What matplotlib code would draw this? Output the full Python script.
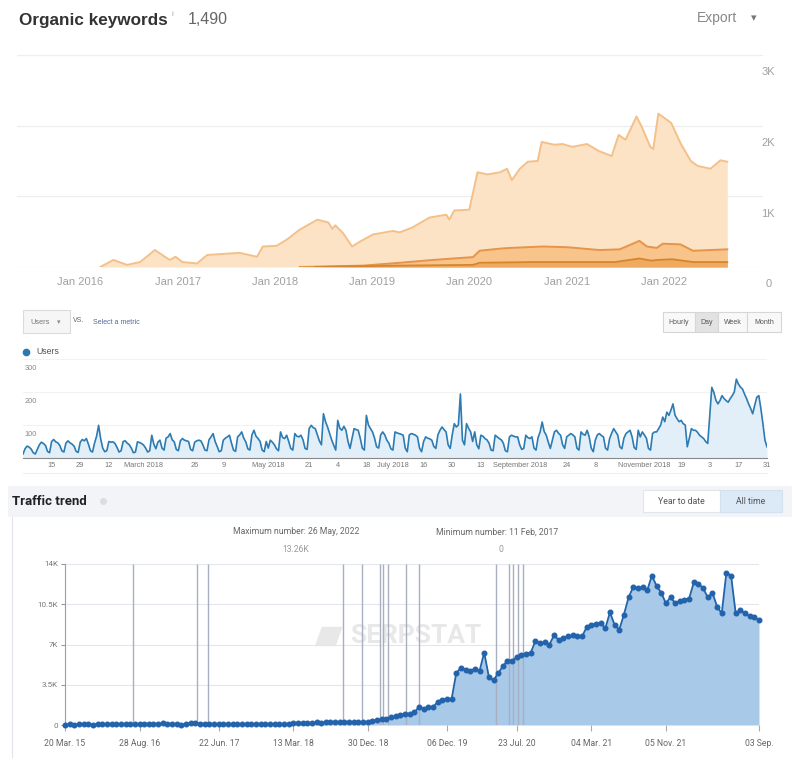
import numpy as np
import pandas as pd
import matplotlib
matplotlib.use('Agg')
import matplotlib.pyplot as plt
from matplotlib.patches import Rectangle, Polygon

# ---------------- data: organic keywords (ahrefs style) ----------------
kw_top_dates = ['2016-03-17', '2016-05-05', '2016-06-25', '2016-08-13', '2016-10-08', '2016-11-14',
                '2016-12-03', '2016-12-24', '2017-01-19', '2017-03-15', '2017-04-22', '2017-08-22',
                '2017-10-26', '2017-11-17', '2018-01-08', '2018-02-16', '2018-04-05', '2018-06-10',
                '2018-07-21', '2018-08-05', '2018-08-16', '2018-09-14', '2018-10-18', '2018-11-17',
                '2019-01-04', '2019-03-20', '2019-04-15', '2019-06-02', '2019-08-05', '2019-10-07',
                '2019-10-18', '2019-11-06', '2020-01-01', '2020-02-01', '2020-03-10', '2020-04-25',
                '2020-05-22', '2020-06-09', '2020-07-09', '2020-08-08', '2020-09-14', '2020-09-29',
                '2020-11-16', '2020-12-16', '2021-01-22', '2021-03-18', '2021-05-02', '2021-06-19',
                '2021-07-15', '2021-08-10', '2021-09-20', '2021-10-09', '2021-11-11', '2021-11-22',
                '2021-12-11', '2022-01-28', '2022-03-06', '2022-04-12', '2022-05-08', '2022-06-25',
                '2022-08-01', '2022-08-27']
kw_top = [0, 100, 30, 70, 240, 145, 100, 145, 70, 50, 170, 200,
          145, 290, 300, 390, 530, 670, 630, 540, 590, 480, 290, 360,
          460, 510, 490, 560, 700, 740, 670, 800, 810, 1340, 1310, 1340,
          1390, 1230, 1390, 1490, 1500, 1770, 1730, 1740, 1700, 1740, 1640, 1570,
          1870, 1800, 2130, 1990, 1700, 1670, 2170, 2040, 1740, 1500, 1430, 1390,
          1510, 1490]

kw_mid_dates = ['2018-04-05', '2018-12-01', '2019-04-15', '2019-08-18', '2020-01-15', '2020-02-09',
                '2020-04-25', '2020-06-03', '2020-10-04', '2021-01-03', '2021-05-04', '2021-07-19',
                '2021-10-01', '2021-10-29', '2021-12-05', '2021-12-28', '2022-03-04', '2022-04-20',
                '2022-08-27']
kw_mid = [0, 20, 60, 100, 140, 230, 260, 270, 290, 280, 240, 250, 370, 290, 270, 330, 320, 230, 250]

kw_low_dates = ['2018-06-01', '2019-04-15', '2020-01-15', '2020-02-09', '2020-09-01', '2021-07-01',
                '2021-10-01', '2021-11-15', '2021-12-10', '2022-02-01', '2022-04-20', '2022-08-27']
kw_low = [0, 20, 30, 60, 70, 70, 120, 90, 100, 110, 70, 70]

kw_years = [2016, 2017, 2018, 2019, 2020, 2021, 2022]
kw_yticks = [0, 1000, 2000, 3000]
kw_ylabels = ['0', '1K', '2K', '3K']

# ---------------- data: GA users per day, 2018 (rows = weeks Mon..Sun) ----------------
users = [
    12, 28, 36, 33, 27, 16, 12,
    26, 40, 48, 44, 38, 20, 16,
    50, 56, 49, 46, 38, 22, 18,
    45, 52, 46, 42, 36, 20, 17,
    48, 56, 52, 59, 42, 22, 18,
    45, 66, 99, 58, 30, 19, 22,
    50, 48, 49, 44, 32, 18, 22,
    50, 52, 45, 40, 30, 16, 18,
    49, 47, 44, 39, 30, 18, 22,
    69, 42, 28, 48, 54, 30, 24,
    60, 64, 74, 55, 49, 26, 22,
    52, 59, 54, 52, 50, 26, 22,
    48, 52, 54, 52, 40, 24, 22,
    55, 64, 74, 50, 35, 19, 22,
    54, 60, 64, 69, 45, 24, 20,
    64, 70, 79, 60, 49, 28, 24,
    70, 84, 66, 59, 50, 24, 19,
    50, 30, 54, 48, 40, 28, 22,
    79, 62, 59, 69, 50, 29, 24,
    74, 66, 64, 69, 55, 29, 26,
    89, 99, 92, 89, 70, 52, 40,
    134, 110, 94, 75, 55, 39, 24,
    114, 90, 84, 96, 84, 50, 29,
    60, 89, 86, 84, 60, 30, 24,
    129, 100, 89, 79, 60, 34, 30,
    70, 79, 70, 54, 45, 28, 24,
    79, 76, 74, 72, 69, 30, 19,
    70, 74, 72, 69, 64, 30, 19,
    50, 64, 60, 58, 54, 35, 29,
    70, 84, 94, 86, 79, 40, 29,
    70, 104, 94, 100, 194, 54, 40,
    104, 90, 79, 50, 79, 40, 28,
    69, 66, 59, 55, 45, 24, 22,
    69, 64, 59, 55, 45, 22, 19,
    64, 69, 66, 64, 64, 40, 26,
    29, 69, 62, 59, 64, 30, 24,
    62, 79, 109, 80, 69, 48, 29,
    54, 79, 84, 75, 69, 40, 29,
    64, 69, 74, 70, 64, 30, 24,
    79, 72, 69, 84, 64, 30, 19,
    54, 70, 74, 68, 64, 30, 24,
    59, 75, 89, 79, 69, 34, 28,
    60, 74, 79, 84, 64, 32, 26,
    84, 64, 79, 70, 60, 29, 24,
    74, 79, 79, 89, 100, 124, 110,
    139, 129, 145, 164, 130, 119, 110,
    114, 104, 100, 34, 60, 89, 84,
    84, 78, 69, 64, 59, 50, 44,
    130, 214, 199, 175, 164, 174, 189,
    180, 174, 169, 180, 189, 200, 239,
    224, 215, 209, 194, 180, 164, 150,
    134, 160, 184, 189, 150, 104, 54,
    34,
]
ga_tick_days = [14, 28, 42, 59, 84, 98, 120, 140, 154, 168, 181, 196, 210, 224, 243, 266,
                280, 304, 322, 336, 350, 364]
ga_tick_labels = ['15', '29', '12', 'March 2018', '26', '9', 'May 2018', '21', '4', '18',
                  'July 2018', '16', '30', '13', 'September 2018', '24', '8', 'November 2018',
                  '19', '3', '17', '31']
ga_yticks = [100, 200, 300]

# ---------------- data: serpstat traffic trend (thousands) ----------------
traffic = [0.04, 0.05, 0.04, 0.05, 0.06, 0.05, 0.04, 0.05, 0.06, 0.05,
           0.05, 0.06, 0.05, 0.06, 0.07, 0.08, 0.09, 0.10, 0.12, 0.11,
           0.12, 0.14, 0.13, 0.12, 0.10, 0.0, 0.12, 0.14, 0.15, 0.13,
           0.12, 0.10, 0.09, 0.08, 0.09, 0.08, 0.07, 0.08, 0.09, 0.08,
           0.07, 0.08, 0.09, 0.08, 0.10, 0.09, 0.08, 0.10, 0.12, 0.18,
           0.20, 0.19, 0.21, 0.20, 0.22, 0.21, 0.22, 0.24, 0.25, 0.24,
           0.25, 0.24, 0.25, 0.26, 0.25, 0.28, 0.35, 0.45, 0.50, 0.55,
           0.68, 0.75,
           0.87, 1.0, 0.96, 1.1, 1.56, 1.4, 1.56, 1.56, 2.0, 2.2,
           2.26, 2.26, 4.5, 5.0, 4.8, 4.7, 4.9, 4.7, 6.3, 4.2,
           3.9, 4.5, 5.1, 5.6, 5.6, 5.9, 6.1, 6.2, 6.3, 7.3,
           7.1, 7.2, 7.0, 7.8, 7.4, 7.6, 7.7, 7.8, 7.7, 7.7,
           8.5, 8.7, 8.8, 8.9, 8.4, 9.8, 8.7, 8.3, 9.6, 11.1,
           12.0, 11.9, 12.0, 11.7, 13.0, 12.1, 11.5, 10.6, 11.1, 10.6,
           10.8, 10.9, 11.0, 12.4, 12.3, 11.9, 11.1, 11.5, 10.3, 9.7,
           13.26, 13.0, 9.7, 10.0, 9.7, 9.5, 9.4, 9.1]
tr_tick_idx = [0, 16, 33, 49, 65, 82, 97, 113, 129, 149]
tr_tick_labels = ['20 Mar. 15', '28 Aug. 16', '22 Jun. 17', '13 Mar. 18', '30 Dec. 18',
                  '06 Dec. 19', '23 Jul. 20', '04 Mar. 21', '05 Nov. 21', '03 Sep.']
tr_updates = [14.6, 28.3, 30.7, 59.7, 63.8, 67.6, 68.2, 69.3, 73.2, 75.9, 92.5, 95.3,
              96.2, 97.2, 98.3]
tr_yticks = [0, 3.5, 7, 10.5, 14]
tr_ylabels = ['0', '3.5K', '7K', '10.5K', '14K']

# ---------------- figure helpers (pixel layout) ----------------
W, H = 800, 762
fig = plt.figure(figsize=(W / 100, H / 100), dpi=100)
fig.patch.set_facecolor('white')


def rect(x0, y0, x1, y1):
    return [x0 / W, 1 - y1 / H, (x1 - x0) / W, (y1 - y0) / H]


def ftext(x, y, s, **kw):
    return fig.text(x / W, 1 - y / H, s, **kw)


def fbox(x0, y0, x1, y1, **kw):
    fig.add_artist(Rectangle((x0 / W, 1 - y1 / H), (x1 - x0) / W, (y1 - y0) / H,
                             transform=fig.transFigure, **kw))


SANS = 'Liberation Sans'

# ================= panel 1: organic keywords =================
ftext(19, 20, 'Organic keywords', fontsize=12.3, fontweight='bold', color='#333333',
      family=SANS, va='center')
ftext(171, 14, 'i', fontsize=6, color='#aaaaaa', family=SANS, va='center')
ftext(188, 20, '1,490', fontsize=11.5, color='#666666', family=SANS, va='center')
ftext(697, 18, 'Export', fontsize=10, color='#888888', family=SANS, va='center')
ftext(751, 18, '▾', fontsize=8, color='#777777', family='DejaVu Sans', va='center')

ax1 = fig.add_axes(rect(17, 55, 763, 267))
td = pd.to_datetime(kw_top_dates)
md = pd.to_datetime(kw_mid_dates)
ld = pd.to_datetime(kw_low_dates)
ax1.fill_between(td, kw_top, color='#fde3c6', lw=0, zorder=2)
ax1.plot(td, kw_top, color='#f4c089', lw=1.4, zorder=3)
ax1.fill_between(md, kw_mid, color='#f8c48a', lw=0, zorder=4)
ax1.plot(md, kw_mid, color='#e5944a', lw=1.4, zorder=5)
ax1.fill_between(ld, kw_low, color='#f0aa60', lw=0, zorder=6)
ax1.plot(ld, kw_low, color='#d6852e', lw=1.3, zorder=7)
ax1.set_ylim(0, 3000)
ax1.set_xlim(pd.Timestamp('2015-05-09'), pd.Timestamp('2023-01-08'))
ax1.set_yticks(kw_yticks)
ax1.set_yticklabels([])
ax1.tick_params(axis='y', length=0)
ax1.grid(axis='y', color='#eeeeee', lw=0.9, zorder=0)
ax1.set_xticks(pd.to_datetime([f'{y}-01-01' for y in kw_years]))
ax1.set_xticklabels([f'Jan {y}' for y in kw_years], fontsize=8, color='#a0a0a0', family=SANS)
ax1.tick_params(axis='x', length=0, pad=7.5)
for s in ax1.spines.values():
    s.set_visible(False)
for v, lab in zip(kw_yticks, kw_ylabels):
    ax1.annotate(lab, xy=(1.007, v), xycoords=('axes fraction', 'data'), xytext=(0, -12.5),
                 textcoords='offset points', ha='center', va='center', fontsize=8,
                 color='#a0a0a0', family=SANS, annotation_clip=False)

# ================= panel 2: GA users =================
fbox(23, 310, 70, 333, facecolor='#f6f6f6', edgecolor='#dcdcdc', lw=0.8)
ftext(30, 322, 'Users', fontsize=5.3, color='#777777', family=SANS, va='center')
ftext(57, 322, '▾', fontsize=5, color='#888888', family='DejaVu Sans', va='center')
ftext(73, 321, 'VS.', fontsize=5, color='#666666', family=SANS, va='center')
ftext(93, 322, 'Select a metric', fontsize=5, color='#4d6b99', family=SANS, va='center')
for x0, x1, lab, fc in [(663, 695, 'Hourly', '#f8f8f8'), (695, 718, 'Day', '#e2e2e2'),
                        (718, 747, 'Week', '#f8f8f8'), (747, 781, 'Month', '#f8f8f8')]:
    fbox(x0, 312, x1, 332, facecolor=fc, edgecolor='#d6d6d6', lw=0.8)
    ftext((x0 + x1) / 2, 322, lab, fontsize=5, color='#555555', family=SANS,
          ha='center', va='center')
fig.add_artist(plt.Line2D([26 / W], [1 - 352 / H], marker='o', ms=4.5, color='#2a78b3',
                          transform=fig.transFigure))
ftext(36, 352, 'Users', fontsize=6.3, color='#555555', family=SANS, va='center')

ax2 = fig.add_axes(rect(23, 359, 767, 458))
days = np.arange(len(users))
ax2.fill_between(days, users, color='#e2eff9', lw=0, zorder=2)
ax2.plot(days, users, color='#2c7bb2', lw=1.2, zorder=3)
ax2.set_xlim(0, 364)
ax2.set_ylim(0, 300)
ax2.set_yticks(ga_yticks)
ax2.set_yticklabels([])
ax2.tick_params(axis='y', length=0)
ax2.grid(axis='y', color='#f2f2f2', lw=0.8, zorder=0)
ax2.set_xticks(ga_tick_days)
ax2.set_xticklabels(ga_tick_labels, fontsize=5.3, color='#777777', family=SANS)
ax2.tick_params(axis='x', length=0, pad=3)
for k, s in ax2.spines.items():
    s.set_visible(k == 'bottom')
ax2.spines['bottom'].set_color('#888888')
for v in ga_yticks:
    ax2.annotate(str(v), xy=(0.002, v), xycoords=('axes fraction', 'data'), xytext=(0, -6.5),
                 textcoords='offset points', ha='left', va='center', fontsize=5.3,
                 color='#888888', family=SANS)
fig.add_artist(plt.Line2D([23 / W, 767 / W], [1 - 473 / H, 1 - 473 / H], color='#eeeeee',
                          lw=0.8, transform=fig.transFigure))

# ================= panel 3: serpstat traffic trend =================
ROB = 'Roboto'
fbox(8, 486, 792, 517, facecolor='#f3f4f8', edgecolor='none')
fig.add_artist(plt.Line2D([12 / W, 12 / W], [1 - 517 / H, 1 - 757 / H], color='#e2e4ea',
                          lw=0.8, transform=fig.transFigure))
ftext(12, 501, 'Traffic trend', fontsize=9.5, fontweight='bold', color='#222222', family=ROB,
      va='center')
fig.add_artist(plt.Line2D([103 / W], [1 - 501 / H], marker='o', ms=4, color='#dadde4',
                          transform=fig.transFigure))
fbox(643, 490, 720, 512, facecolor='white', edgecolor='#e2e5ec', lw=0.8)
fbox(720, 490, 782, 512, facecolor='#dce9f6', edgecolor='#d2e0ef', lw=0.8)
ftext(681, 501, 'Year to date', fontsize=6.3, color='#555555', family=ROB, ha='center',
      va='center')
ftext(751, 501, 'All time', fontsize=6.3, color='#555555', family=ROB, ha='center', va='center')

imax = int(np.argmax(traffic))
imin = int(np.argmin(traffic))
ftext(296, 532, 'Maximum number: 26 May, 2022', fontsize=6.2, color='#666666', family=ROB,
      ha='center', va='center')
ftext(296, 550, f'{traffic[imax]:.2f}K', fontsize=6.2, color='#999999', family=ROB,
      ha='center', va='center')
ftext(497, 532, 'Minimum number: 11 Feb, 2017', fontsize=6.2, color='#666666', family=ROB,
      ha='center', va='center')
ftext(501, 549, f'{traffic[imin]:g}', fontsize=6.2, color='#999999', family=ROB,
      ha='center', va='center')

ax3 = fig.add_axes(rect(65, 564, 759, 725))
idx = np.arange(len(traffic))
ax3.fill_between(idx, traffic, color='#a9c9e8', lw=0, zorder=2)
ax3.vlines(tr_updates, 0, 14, colors='#a8afbf', lw=1.0, zorder=3)
ax3.plot(idx, traffic, color='#2363ab', lw=1.3, marker='o', ms=3.3, zorder=4, clip_on=False)
# watermark
ax3.text(0.505, 0.55, 'SERPSTAT', transform=ax3.transAxes, fontsize=19, fontweight='bold',
         color='#e8e8e8', family=ROB, ha='center', va='center', zorder=1)
ax3.add_patch(Polygon([(0.36, 0.49), (0.39, 0.49), (0.40, 0.61), (0.37, 0.61)],
                      closed=True, transform=ax3.transAxes, facecolor='#e8e8e8',
                      edgecolor='none', zorder=1))
ax3.set_xlim(0, len(traffic) - 1)
ax3.set_ylim(0, 14)
ax3.set_yticks(tr_yticks)
ax3.set_yticklabels(tr_ylabels, fontsize=5.8, color='#777777', family=ROB)
ax3.tick_params(axis='y', length=3, color='#999999', pad=2)
ax3.grid(axis='y', color='#e3e6ee', lw=0.8, zorder=0)
ax3.set_xticks(tr_tick_idx)
ax3.set_xticklabels(tr_tick_labels, fontsize=6.2, color='#666666', family=ROB)
ax3.tick_params(axis='x', length=4, color='#aaaaaa', pad=6)
for k, s in ax3.spines.items():
    s.set_visible(k == 'left')
ax3.spines['left'].set_color('#9aa0aa')

fig.savefig('out.png', dpi=100)
